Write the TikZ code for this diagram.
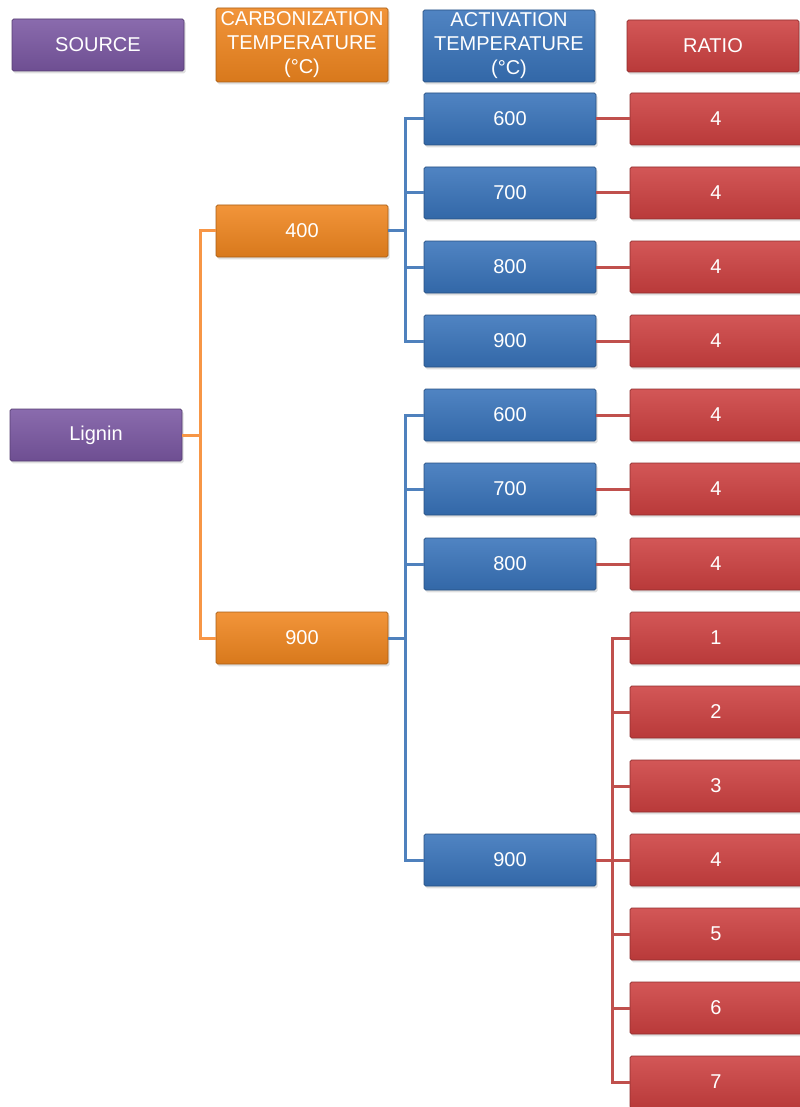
\documentclass[tikz,border=0pt]{standalone}
\usepackage{fontspec}
\setmainfont{Liberation Sans}
\usepackage{xcolor}
\usetikzlibrary{shadows}

\definecolor{purp}{HTML}{7A57A2}
\definecolor{orng}{HTML}{F0861F}
\definecolor{blu}{HTML}{3873BA}
\definecolor{rd}{HTML}{CD4040}
\definecolor{orngline}{HTML}{F79646}
\definecolor{bluline}{HTML}{4F81BD}
\definecolor{rdline}{HTML}{C0504D}

\tikzset{
    cell/.style={minimum width=86pt, minimum height=26pt, inner sep=0pt, align=center,
        text=white, font=\fontsize{10}{12}\selectfont, rounded corners=0.8pt,
        draw=#1!70!black, line width=0.4pt,
        top color=#1!88!white, bottom color=#1!90!black,
        drop shadow={opacity=0.25, shadow xshift=0.8pt, shadow yshift=-1.2pt}},
    link/.style={line width=1.5pt, #1}
}

\begin{document}
\begin{tikzpicture}[x=0.5pt, y=-0.5pt]
        \useasboundingbox (0,0) rectangle (799,1107);
        % headers
        \node[cell=purp](src) at (98,45) {SOURCE};
        \node[cell=orng, minimum height=37pt](carbh) at (302,45) {CARBONIZATION\\TEMPERATURE\\(°C)};
        \node[cell=blu, minimum height=36pt](acth) at (509,46) {ACTIVATION\\TEMPERATURE\\(°C)};
        \node[cell=rd](ratioh) at (713,46) {RATIO};
        % source
        \node[cell=purp](lignin) at (96,435) {Lignin};
        % carbonization
        \node[cell=orng](c400) at (302,231) {400};
        \node[cell=orng](c900) at (302,638) {900};
        % activation
        \node[cell=blu](a600) at (510,119) {600};
        \node[cell=blu](a700) at (510,193) {700};
        \node[cell=blu](a800) at (510,267) {800};
        \node[cell=blu](a900) at (510,341) {900};
        \node[cell=blu](b600) at (510,415) {600};
        \node[cell=blu](b700) at (510,489) {700};
        \node[cell=blu](b800) at (510,564) {800};
        \node[cell=blu](b900) at (510,860) {900};
        % ratio
        \node[cell=rd](ra600) at (716,119) {4};
        \node[cell=rd](ra700) at (716,193) {4};
        \node[cell=rd](ra800) at (716,267) {4};
        \node[cell=rd](ra900) at (716,341) {4};
        \node[cell=rd](rb600) at (716,415) {4};
        \node[cell=rd](rb700) at (716,489) {4};
        \node[cell=rd](rb800) at (716,564) {4};
        \node[cell=rd](r1) at (716,638) {1};
        \node[cell=rd](r2) at (716,712) {2};
        \node[cell=rd](r3) at (716,786) {3};
        \node[cell=rd](r4) at (716,860) {4};
        \node[cell=rd](r5) at (716,934) {5};
        \node[cell=rd](r6) at (716,1008) {6};
        \node[cell=rd](r7) at (716,1082) {7};
        % lignin to carbonization
        \draw[link=orngline](lignin.east) -- ([xshift=9pt]lignin.east) |- (c400.west);
        \draw[link=orngline](lignin.east) -- ([xshift=9pt]lignin.east) |- (c900.west);
        % carbonization to activation
        \draw[link=bluline](c400.east) -- ([xshift=8.5pt]c400.east) |- (a600.west);
        \draw[link=bluline](c400.east) -- ([xshift=8.5pt]c400.east) |- (a700.west);
        \draw[link=bluline](c400.east) -- ([xshift=8.5pt]c400.east) |- (a800.west);
        \draw[link=bluline](c400.east) -- ([xshift=8.5pt]c400.east) |- (a900.west);
        \draw[link=bluline](c900.east) -- ([xshift=8.5pt]c900.east) |- (b600.west);
        \draw[link=bluline](c900.east) -- ([xshift=8.5pt]c900.east) |- (b700.west);
        \draw[link=bluline](c900.east) -- ([xshift=8.5pt]c900.east) |- (b800.west);
        \draw[link=bluline](c900.east) -- ([xshift=8.5pt]c900.east) |- (b900.west);
        % activation to ratio
        \draw[link=rdline](a600) -- (ra600);
        \draw[link=rdline](a700) -- (ra700);
        \draw[link=rdline](a800) -- (ra800);
        \draw[link=rdline](a900) -- (ra900);
        \draw[link=rdline](b600) -- (rb600);
        \draw[link=rdline](b700) -- (rb700);
        \draw[link=rdline](b800) -- (rb800);
        \draw[link=rdline](b900.east) -- ([xshift=8pt]b900.east) |- (r1.west);
        \draw[link=rdline](b900.east) -- ([xshift=8pt]b900.east) |- (r2.west);
        \draw[link=rdline](b900.east) -- ([xshift=8pt]b900.east) |- (r3.west);
        \draw[link=rdline](b900.east) -- (r4.west);
        \draw[link=rdline](b900.east) -- ([xshift=8pt]b900.east) |- (r5.west);
        \draw[link=rdline](b900.east) -- ([xshift=8pt]b900.east) |- (r6.west);
        \draw[link=rdline](b900.east) -- ([xshift=8pt]b900.east) |- (r7.west);
\end{tikzpicture}
\end{document}
